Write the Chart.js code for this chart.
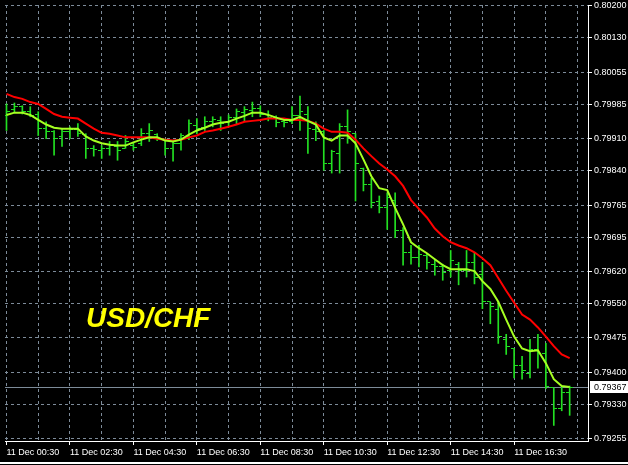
<!DOCTYPE html>
<html>
<head>
<meta charset="utf-8">
<script src="https://cdn.jsdelivr.net/npm/chart.js@4.4.0/dist/chart.umd.min.js"></script>
<style>
  html, body { margin: 0; padding: 0; background: #000; }
  #wrap { position: relative; width: 628px; height: 465px; }
  #frame { position: absolute; left: 0; top: 462px; width: 628px; height: 2px; background: #fff; }
</style>
</head>
<body>
<div id="wrap"><canvas id="chart"></canvas><div id="frame"></div></div>
<script>
// USD/CHF M15, 11 Dec 00:30 - 18:15
const symbol = 'USD/CHF';
const timeLabels = ['11 Dec 00:30', '11 Dec 02:30', '11 Dec 04:30', '11 Dec 06:30', '11 Dec 08:30',
    '11 Dec 10:30', '11 Dec 12:30', '11 Dec 14:30', '11 Dec 16:30'];

const opens = [0.79960, 0.79973, 0.79980, 0.79969, 0.79964, 0.79932, 0.79925, 0.79915, 0.79925, 0.79930,
    0.79919, 0.79889, 0.79885, 0.79889, 0.79893, 0.79889, 0.79895, 0.79900, 0.79921, 0.79919,
    0.79908, 0.79889, 0.79900, 0.79915, 0.79938, 0.79934, 0.79947, 0.79949, 0.79945, 0.79956,
    0.79967, 0.79971, 0.79977, 0.79964, 0.79956, 0.79947, 0.79947, 0.79960, 0.79964, 0.79930,
    0.79925, 0.79856, 0.79878, 0.79936, 0.79921, 0.79846, 0.79809, 0.79774, 0.79759, 0.79776,
    0.79710, 0.79662, 0.79651, 0.79655, 0.79636, 0.79630, 0.79623, 0.79636, 0.79623, 0.79640,
    0.79614, 0.79554, 0.79537, 0.79472, 0.79452, 0.79414, 0.79398, 0.79450, 0.79442, 0.79366,
    0.79321, 0.79355];
const highs = [0.79986, 0.79988, 0.79982, 0.79980, 0.79969, 0.79947, 0.79928, 0.79932, 0.79936, 0.79943,
    0.79921, 0.79895, 0.79895, 0.79904, 0.79904, 0.79917, 0.79900, 0.79932, 0.79943, 0.79921,
    0.79910, 0.79904, 0.79921, 0.79951, 0.79954, 0.79958, 0.79958, 0.79958, 0.79962, 0.79975,
    0.79980, 0.79990, 0.79982, 0.79971, 0.79960, 0.79949, 0.79980, 0.80003, 0.79980, 0.79947,
    0.79928, 0.79885, 0.79943, 0.79973, 0.79921, 0.79846, 0.79824, 0.79785, 0.79792, 0.79792,
    0.79716, 0.79677, 0.79677, 0.79658, 0.79647, 0.79636, 0.79666, 0.79640, 0.79666, 0.79662,
    0.79640, 0.79554, 0.79554, 0.79483, 0.79452, 0.79435, 0.79472, 0.79483, 0.79463, 0.79366,
    0.79370, 0.79370];
const lows = [0.79928, 0.79969, 0.79964, 0.79958, 0.79917, 0.79910, 0.79874, 0.79893, 0.79910, 0.79915,
    0.79867, 0.79872, 0.79867, 0.79874, 0.79863, 0.79889, 0.79885, 0.79895, 0.79904, 0.79906,
    0.79874, 0.79861, 0.79885, 0.79908, 0.79921, 0.79928, 0.79936, 0.79928, 0.79938, 0.79943,
    0.79949, 0.79958, 0.79958, 0.79949, 0.79936, 0.79936, 0.79943, 0.79928, 0.79878, 0.79906,
    0.79841, 0.79835, 0.79835, 0.79900, 0.79774, 0.79796, 0.79759, 0.79748, 0.79712, 0.79694,
    0.79634, 0.79636, 0.79630, 0.79625, 0.79612, 0.79601, 0.79608, 0.79591, 0.79608, 0.79593,
    0.79539, 0.79506, 0.79463, 0.79439, 0.79388, 0.79385, 0.79388, 0.79409, 0.79364, 0.79284,
    0.79316, 0.79306];
const closes = [0.79969, 0.79980, 0.79969, 0.79960, 0.79932, 0.79925, 0.79910, 0.79925, 0.79930, 0.79921,
    0.79889, 0.79887, 0.79889, 0.79895, 0.79885, 0.79904, 0.79891, 0.79921, 0.79928, 0.79908,
    0.79889, 0.79900, 0.79917, 0.79943, 0.79932, 0.79947, 0.79951, 0.79943, 0.79956, 0.79969,
    0.79973, 0.79977, 0.79964, 0.79956, 0.79945, 0.79945, 0.79960, 0.79969, 0.79932, 0.79925,
    0.79856, 0.79882, 0.79936, 0.79925, 0.79856, 0.79809, 0.79770, 0.79759, 0.79781, 0.79710,
    0.79662, 0.79651, 0.79658, 0.79640, 0.79630, 0.79619, 0.79645, 0.79623, 0.79640, 0.79608,
    0.79554, 0.79543, 0.79478, 0.79457, 0.79414, 0.79403, 0.79450, 0.79442, 0.79370, 0.79321,
    0.79355, 0.79367];

// moving averages
const maFast = [0.79962, 0.79967, 0.79967, 0.79962, 0.79951, 0.79941, 0.79934, 0.79932, 0.79932, 0.79932,
    0.79915, 0.79906, 0.79900, 0.79897, 0.79895, 0.79895, 0.79902, 0.79908, 0.79913, 0.79913,
    0.79906, 0.79904, 0.79908, 0.79919, 0.79928, 0.79934, 0.79941, 0.79945, 0.79947, 0.79954,
    0.79960, 0.79967, 0.79967, 0.79962, 0.79956, 0.79951, 0.79951, 0.79958, 0.79949, 0.79941,
    0.79913, 0.79906, 0.79917, 0.79917, 0.79900, 0.79865, 0.79828, 0.79802, 0.79798, 0.79759,
    0.79723, 0.79684, 0.79671, 0.79660, 0.79647, 0.79634, 0.79625, 0.79625, 0.79625, 0.79621,
    0.79599, 0.79582, 0.79554, 0.79515, 0.79478, 0.79452, 0.79446, 0.79448, 0.79420, 0.79385,
    0.79370, 0.79368];
const maSlow = [0.80008, 0.80001, 0.79997, 0.79990, 0.79986, 0.79975, 0.79964, 0.79958, 0.79956, 0.79954,
    0.79943, 0.79932, 0.79923, 0.79921, 0.79917, 0.79913, 0.79913, 0.79913, 0.79913, 0.79910,
    0.79908, 0.79906, 0.79908, 0.79913, 0.79917, 0.79925, 0.79928, 0.79932, 0.79936, 0.79941,
    0.79947, 0.79949, 0.79951, 0.79954, 0.79954, 0.79954, 0.79951, 0.79951, 0.79949, 0.79943,
    0.79932, 0.79925, 0.79925, 0.79923, 0.79908, 0.79889, 0.79872, 0.79856, 0.79843, 0.79828,
    0.79807, 0.79776, 0.79757, 0.79738, 0.79714, 0.79697, 0.79684, 0.79677, 0.79671, 0.79662,
    0.79649, 0.79634, 0.79606, 0.79578, 0.79552, 0.79526, 0.79515, 0.79498, 0.79478, 0.79457,
    0.79439, 0.79431];

const priceTicks = [0.80200, 0.80130, 0.80055, 0.79985, 0.79910, 0.79840, 0.79765, 0.79695,
    0.79620, 0.79550, 0.79475, 0.79400, 0.79330, 0.79255];
const currentPrice = 0.79367;

const barColor = '#22e022';
const gridColor = '#7d8b99';
const axisFont = { family: "'Liberation Sans', Arial, sans-serif", size: 9 };

// little open / close ticks used as point images
function tickImage(side) {
    const c = document.createElement('canvas');
    c.width = 7;
    c.height = 1;
    const g = c.getContext('2d');
    g.fillStyle = barColor;
    g.fillRect(side === 'left' ? 0 : 4, 0, 3, 1);
    return c;
}

function points(values) {
    return values.map(function (v, i) { return { x: i, y: v }; });
}

const overlay = {
    id: 'overlay',
    beforeDatasetsDraw(chart) {
        const { ctx, chartArea, scales } = chart;
        const py = Math.round(scales.y.getPixelForValue(currentPrice)) + 0.5;
        ctx.save();
        ctx.strokeStyle = gridColor;
        ctx.lineWidth = 1;
        ctx.beginPath();
        ctx.moveTo(chartArea.left, py);
        ctx.lineTo(chartArea.right, py);
        ctx.stroke();
        ctx.font = 'italic bold 28px "Liberation Sans", Arial, sans-serif';
        ctx.fillStyle = '#ffff00';
        ctx.fillText(symbol, 86, 327);
        ctx.restore();
    },
    afterDraw(chart) {
        const { ctx, chartArea, scales } = chart;
        const py = Math.round(scales.y.getPixelForValue(currentPrice));
        ctx.save();
        ctx.fillStyle = '#fff';
        ctx.fillRect(chartArea.right + 2, py - 6, 40, 12);
        ctx.fillStyle = '#000';
        ctx.font = axisFont.size + 'px ' + axisFont.family;
        ctx.textBaseline = 'middle';
        ctx.fillText(currentPrice.toFixed(5), chartArea.right + 6, py + 0.5);
        ctx.restore();
    }
};

const chart = new Chart(document.getElementById('chart'), {
    type: 'bar',
    data: {
        datasets: [{
            type: 'line',
            data: points(maFast),
            borderColor: '#a6ff22',
            borderWidth: 2,
            pointRadius: 0,
            tension: 0
        }, {
            type: 'line',
            data: points(maSlow),
            borderColor: '#ff0000',
            borderWidth: 2,
            pointRadius: 0,
            tension: 0
        }, {
            type: 'line',
            data: points(opens),
            showLine: false,
            pointStyle: tickImage('left'),
            pointRadius: 3
        }, {
            type: 'line',
            data: points(closes),
            showLine: false,
            pointStyle: tickImage('right'),
            pointRadius: 3
        }, {
            data: lows.map(function (l, i) { return { x: i, y: [l, highs[i]] }; }),
            backgroundColor: barColor,
            borderWidth: 0,
            barThickness: 1,
            grouped: false
        }]
    },
    options: {
        responsive: true,
        maintainAspectRatio: false,
        animation: false,
        layout: { padding: 0 },
        plugins: {
            legend: { display: false },
            tooltip: { enabled: false }
        },
        scales: {
            x: {
                type: 'linear',
                min: -0.1875,
                max: 73.3125,
                offset: false,
                afterBuildTicks(scale) {
                    const t = [];
                    for (let v = 0; v <= 72; v += 4) t.push({ value: v });
                    scale.ticks = t;
                },
                afterFit(scale) {
                    scale.height = 24;
                    scale.paddingLeft = 0;
                    scale.paddingRight = 0;
                },
                grid: {
                    color: gridColor,
                    offset: false,
                    tickLength: 4,
                    tickColor: function (ctx) {
                        const v = ctx.tick ? ctx.tick.value : -1;
                        return (v % 8 === 0 && v <= 64) ? '#fff' : 'rgba(0,0,0,0)';
                    }
                },
                border: { color: '#fff', width: 1, dash: [3, 3] },
                ticks: {
                    autoSkip: false,
                    maxRotation: 0,
                    align: 'start',
                    padding: 2,
                    color: '#fff',
                    font: axisFont,
                    callback: function (v) {
                        return (v % 8 === 0 && timeLabels[v / 8]) ? timeLabels[v / 8] : '';
                    }
                }
            },
            y: {
                position: 'right',
                min: 0.79250,
                max: 0.80202,
                beginAtZero: false,
                afterBuildTicks(scale) {
                    scale.ticks = priceTicks.map(function (v) { return { value: v }; });
                },
                afterFit(scale) {
                    scale.width = 40;
                    scale.paddingTop = 0;
                    scale.paddingBottom = 0;
                },
                grid: { color: gridColor, tickLength: 4, tickColor: '#fff' },
                border: { color: '#fff', width: 1, dash: [3, 3] },
                ticks: {
                    padding: 2,
                    color: '#fff',
                    font: axisFont,
                    callback: function (v) { return v.toFixed(5); }
                }
            }
        }
    },
    plugins: [overlay]
});
</script>
</body>
</html>
